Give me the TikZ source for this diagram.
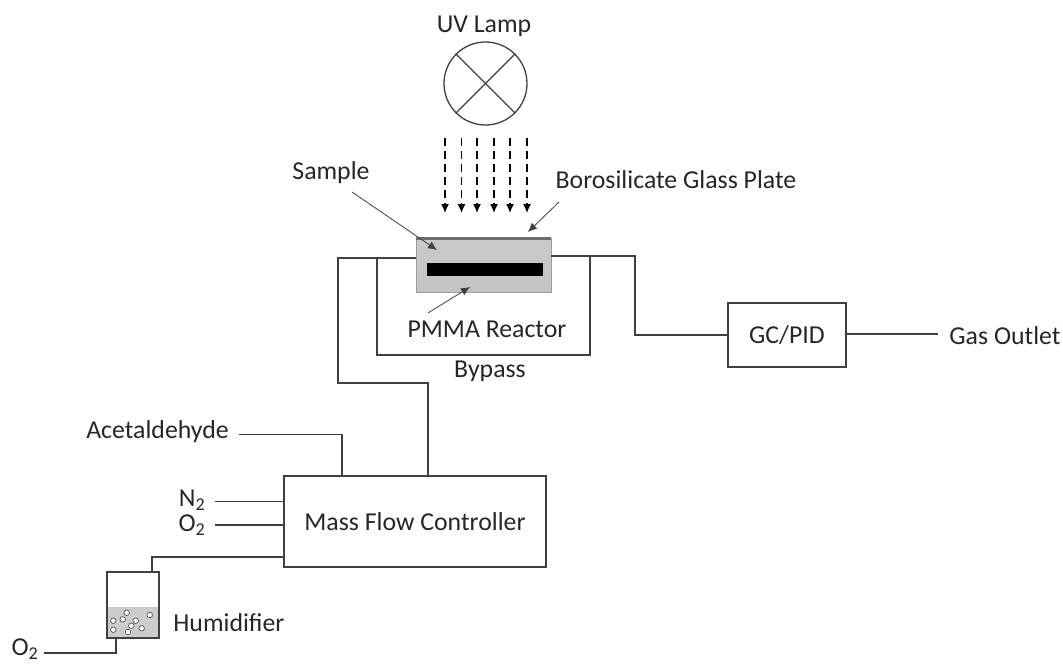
\documentclass[tikz,border=0pt]{standalone}
\usepackage{fontspec}
\setmainfont{Carlito}
\usepackage{tikz}
\usetikzlibrary{arrows,positioning,arrows.meta}
\definecolor{wire}{RGB}{64, 64, 64}
\definecolor{reactorgray}{RGB}{196, 196, 196}
\definecolor{plategray}{RGB}{110, 110, 110}
\definecolor{watergray}{RGB}{204, 204, 204}
\tikzstyle{txt} = [inner sep=0pt, text=black!85, font=\fontsize{25.8}{30}\selectfont]
\tikzstyle{box} = [rectangle, draw=wire, line width=1.3pt, inner sep=0pt]
\tikzstyle{lampnode} = [circle, draw=wire, line width=1.3pt, minimum size=83pt, inner sep=0pt]
\tikzstyle{reactor} = [rectangle, top color=reactorgray!90, bottom color=reactorgray, draw=reactorgray!80!black, line width=0.4pt, minimum width=135pt, minimum height=54pt, inner sep=0pt]
\tikzstyle{plate} = [rectangle, fill=plategray, minimum width=135pt, minimum height=3pt, inner sep=0pt]
\tikzstyle{sample} = [rectangle, fill=black, minimum width=116pt, minimum height=13pt, inner sep=0pt]
\tikzstyle{water} = [rectangle, fill=watergray, minimum width=52pt, minimum height=31pt, inner sep=0pt]
\tikzstyle{bubble} = [circle, draw=wire, fill=white, line width=0.6pt, minimum size=5.5pt, inner sep=0pt]
\tikzstyle{tedge} = [draw=wire, line width=1.3pt]
\tikzstyle{ray} = [draw=black, line width=1.3pt, dash pattern=on 8pt off 5pt, -{Latex[length=9pt,width=8pt]}]
\tikzstyle{pointer} = [draw=wire, line width=0.8pt, -{Latex[length=9pt,width=8pt]}]

\begin{document}
\begin{tikzpicture}[x=1pt,y=-1pt]
\useasboundingbox (0,0) rectangle (1063,664);

% lamp and rays
\node[lampnode] (lamp) at (485.5,83.5) {};
\node[txt] (uv) at (484,26) {UV Lamp};
\path[tedge] (lamp.45) -- (lamp.225);
\path[tedge] (lamp.135) -- (lamp.315);
\foreach \i/\x in {1/445,2/461.5,3/477,4/494,5/510,6/527} {
  \coordinate (ra\i) at (\x,138);
  \coordinate (rb\i) at (\x,213);
  \path[ray] (ra\i) -- (rb\i);
}

% reactor
\node[reactor] (reactor) at (483.5,265) {};
\node[plate] (plate) at (483.5,238.5) {};
\node[sample] (sample) at (485,269.5) {};
\node[txt] (samplelabel) at (331,173) {Sample};
\node[txt] (glasslabel) at (676,180) {Borosilicate Glass Plate};
\node[txt] (pmma) at (487,329) {PMMA Reactor};
\node[txt] (bypass) at (490,371) {Bypass};

% boxes
\node[box, minimum width=118pt, minimum height=64pt] (gc) at (787,335) {};
\node[txt] at (gc) (gctext) {GC/PID};
\node[box, minimum width=262pt, minimum height=91pt] (mfc) at (415,521.5) {};
\node[txt] at (mfc) (mfctext) {Mass Flow Controller};

% inlet labels
\node[txt] (acet) at (157.5,432) {Acetaldehyde};
\node[txt] (n2) at (192,500) {N\textsubscript{2}};
\node[txt] (o2) at (192,525) {O\textsubscript{2}};
\node[txt] (outlet) at (1005,336) {Gas Outlet};

% humidifier
\node[water] (water) at (133,622.5) {};
\foreach \i/\x/\y in {1/113.3/620.7,2/126.7/612.7,3/122.7/619.3,4/135.7/620.7,5/149.7/615,6/131.3/625.7,7/141.7/628.3,8/113.3/629.7,9/128/632} {
  \node[bubble] (bub\i) at (\x,\y) {};
}
\node[box, minimum width=52pt, minimum height=66pt] (hum) at (133,605) {};
\node[txt, right=14pt of water] (humtext) {Humidifier};
\node[txt] (o2b) at (25,649) {O\textsubscript{2}};

% coordinates for the piping
\coordinate (p1) at (338,258);
\coordinate (p2) at (338,383);
\coordinate (p3) at (428,383);
\coordinate (p4) at (428,476);
\coordinate (by1) at (377,258);
\coordinate (by2) at (377,355);
\coordinate (by3) at (590,355);
\coordinate (by4) at (590,256);
\coordinate (r1) at (635,256);
\coordinate (r2) at (635,335);
\coordinate (acet1) at (239,434.5);
\coordinate (acet2) at (342,434.5);
\coordinate (acet3) at (342,476);
\coordinate (n2a) at (215,501.5);
\coordinate (n2b) at (284,501.5);
\coordinate (o2a) at (215,525);
\coordinate (o2c) at (284,525);
\coordinate (h1) at (284,557);
\coordinate (h2) at (152,557);
\coordinate (h3) at (152,572);
\coordinate (h4) at (116,638);
\coordinate (h5) at (116,653);
\coordinate (h6) at (44,653);
\coordinate (gasend) at (938,334);
\coordinate (s1) at (352,192);
\coordinate (s2) at (437,250);
\coordinate (g1) at (559,202);
\coordinate (g2) at (528,232);
\coordinate (m1) at (428,313);
\coordinate (m2) at (470,287);

%edges
\path[tedge] (reactor.west |- p1) -- (p1) -- (p2) -- (p3) -- (p4);
\path[tedge] (by1) -- (by2) -- (by3) -- (by4);
\path[tedge] (reactor.east |- r1) -- (r1) -- (r2) -- (gc.west |- r2);
\path[tedge] (gc.east |- gasend) -- (gasend);
\path[tedge] (acet1) -- (acet2) -- (acet3);
\path[tedge] (n2a) -- (n2b);
\path[tedge] (o2a) -- (o2c);
\path[tedge] (h1) -- (h2) -- (h3);
\path[tedge] (h4) -- (h5) -- (h6);

\path[pointer] (s1) -- (s2);
\path[pointer] (g1) -- (g2);
\path[pointer] (m1) -- (m2);

\end{tikzpicture}
\end{document}
